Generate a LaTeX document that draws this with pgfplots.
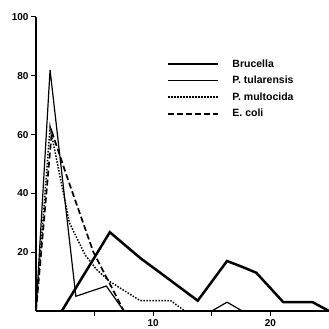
\documentclass[border=0pt]{standalone}
\usepackage{fontspec}
\setmainfont{Liberation Sans}
\usepackage{pgfplots}
\pgfplotsset{compat=1.18}
\begin{document}
\begin{tikzpicture}
\useasboundingbox (0,0) rectangle (329pt,329pt);
\begin{axis}[
  at={(36pt,18pt)}, anchor=south west,
  scale only axis, width=293pt, height=294pt,
  xmin=0, xmax=25, ymin=0, ymax=100,
  axis x line=bottom, axis y line=left,
  axis line style={-, line width=1.2pt},
  tick align=outside, tick style={line width=1pt, black},
  major tick length=5pt,
  xtick={5,10,15,20}, xticklabels={,10,,20},
  ytick={20,40,60,80,100},
  /pgf/number format/assume math mode=true,
  ticklabel style={font=\bfseries\fontsize{10}{11}\selectfont},
  yticklabel style={xshift=1pt},
  clip=false,
  legend style={draw=none, fill=none, at={(axis cs:10.9,87)}, anchor=north west,
    font=\bfseries\fontsize{10.5}{11}\selectfont, row sep=3.5pt},
  legend cell align=left,
  legend image code/.code={\draw[#1] (0pt,0pt) -- (50pt,0pt); \path (61pt,0pt);},
]
\addplot[black, line width=2.5pt] coordinates {(2.2,0) (6.3,26.8) (8.9,18) (10.6,13) (13.8,3.5) (16.3,17) (17.6,15) (18.8,13) (21.1,3) (23.6,3) (25,0)};
\addlegendentry{Brucella}
\addplot[black, line width=1.2pt] coordinates {(0,0) (1.2,82) (3.4,5) (6.0,8.5) (7.5,0) (15,0) (16.3,3) (17.6,0)};
\addlegendentry{P. tularensis}
\addplot[black, line width=1.5pt, dash pattern=on 1.5pt off 1.5pt] coordinates {(0,0) (1.2,62.5) (2.85,30) (4.2,19) (5.2,14) (6.3,10) (8.9,3.5) (11.5,3.5) (12.7,0)};
\addlegendentry{P. multocida}
\addplot[black, line width=1.7pt, dash pattern=on 6pt off 3pt] coordinates {(0,0) (1.35,61) (2.7,45) (4.9,20) (7.5,0)};
\addlegendentry{E. coli}
\end{axis}
\end{tikzpicture}
\end{document}
